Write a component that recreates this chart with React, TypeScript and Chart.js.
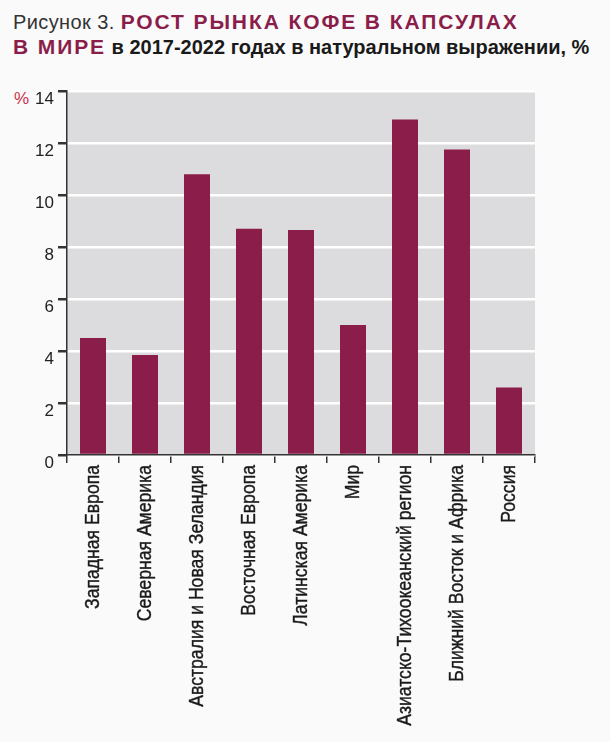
import React, { useEffect, useRef } from "react";
import { Chart, registerables } from "chart.js";

Chart.register(...registerables);

const categories = [
  "Западная Европа",
  "Северная Америка",
  "Австралия и Новая Зеландия",
  "Восточная Европа",
  "Латинская Америка",
  "Мир",
  "Азиатско-Тихоокеанский регион",
  "Ближний Восток и Африка",
  "Россия",
];
const growth = [4.5, 3.85, 10.8, 8.7, 8.65, 5.0, 12.9, 11.75, 2.6];
const yMin = 0;
const yMax = 14;
const yStep = 2;

const MAROON = "#8b1d4a";
const FONT = "'Liberation Sans', Arial, sans-serif";

const plotBg = {
  id: "plotBg",
  beforeDraw(chart: any) {
    const { ctx, chartArea } = chart;
    const { left, top, right, bottom } = chartArea;
    ctx.save();
    ctx.fillStyle = "#dcdcde";
    ctx.fillRect(left, top, right - left, bottom - top);
    ctx.restore();
  },
};

// Condensed, rotated category labels drawn at the x scale's tick positions
const xLabels = {
  id: "xLabels",
  afterDraw(chart: any) {
    const xs = chart.scales.x;
    const ctx = chart.ctx;
    ctx.save();
    ctx.font = `20px ${FONT}`;
    ctx.fillStyle = "#1a1a1a";
    ctx.strokeStyle = "#1a1a1a";
    ctx.lineWidth = 0.4;
    ctx.textAlign = "right";
    ctx.textBaseline = "middle";
    xs.ticks.forEach((_t: any, i: number) => {
      const x = xs.getPixelForTick(i);
      const label = String(chart.data.labels[i]);
      ctx.save();
      ctx.translate(x, xs.top + 10);
      ctx.rotate(-Math.PI / 2);
      ctx.scale(0.88, 1);
      ctx.fillText(label, 0, 0);
      ctx.strokeText(label, 0, 0);
      ctx.restore();
    });
    ctx.restore();
  },
};

export default function App() {
  const ref = useRef<HTMLCanvasElement | null>(null);

  useEffect(() => {
    if (!ref.current) return;
    const chart = new Chart(ref.current, {
      type: "bar",
      data: {
        labels: categories,
        datasets: [
          {
            data: growth,
            backgroundColor: MAROON,
            borderWidth: 0,
            barPercentage: 0.5,
            categoryPercentage: 1,
          },
        ],
      },
      options: {
        animation: false,
        responsive: false,
        maintainAspectRatio: false,
        layout: { padding: { left: 0, top: 91, right: 75, bottom: 0 } },
        plugins: {
          legend: { display: false },
          tooltip: { enabled: false },
        },
        scales: {
          x: {
            grid: {
              offset: true,
              drawOnChartArea: false,
              drawTicks: true,
              tickColor: "#333",
              tickLength: 8,
              lineWidth: 1.5,
            },
            border: { color: "#333", width: 1.5 },
            ticks: {
              display: false,
              autoSkip: false,
            },
            afterFit(scale: any) {
              scale.height = 287;
            },
          },
          y: {
            min: yMin,
            max: yMax,
            ticks: {
              stepSize: yStep,
              color: "#222",
              padding: 4,
              labelOffset: 8,
              font: { family: FONT, size: 17 },
            },
            grid: {
              color: "#ffffff",
              lineWidth: 2.5,
              tickColor: "#333",
              tickLength: 9,
            },
            border: { color: "#333", width: 1.5 },
            afterFit(scale: any) {
              scale.width = 67;
            },
          },
        },
      },
      plugins: [plotBg, xLabels],
    });
    return () => chart.destroy();
  }, []);

  return (
    <div
      style={{
        position: "absolute",
        left: 0,
        top: 0,
        width: 610,
        height: 742,
        background: "#fafafa",
        overflow: "hidden",
      }}
    >
      <div
        style={{
          position: "absolute",
          left: 13,
          top: 8,
          whiteSpace: "nowrap",
          fontFamily: FONT,
          fontSize: 21,
          lineHeight: "28px",
        }}
      >
        <span style={{ color: "#333", fontWeight: 400, fontSize: 20, letterSpacing: 0.4 }}>Рисунок 3. </span>
        <span style={{ color: MAROON, fontWeight: 700, letterSpacing: 1.9 }}>РОСТ РЫНКА КОФЕ В КАПСУЛАХ</span>
      </div>
      <div
        style={{
          position: "absolute",
          left: 13,
          top: 33,
          whiteSpace: "nowrap",
          fontFamily: FONT,
          fontSize: 21,
          lineHeight: "28px",
        }}
      >
        <span style={{ color: MAROON, fontWeight: 700, letterSpacing: 1.9 }}>В МИРЕ</span>
        <span style={{ color: "#1a1a1a", fontWeight: 700, fontSize: 20 }}> в 2017-2022 годах в натуральном выражении, %</span>
      </div>
      <div
        style={{
          position: "absolute",
          left: 14,
          top: 89,
          color: "#c8324a",
          fontFamily: FONT,
          fontSize: 17,
          lineHeight: "20px",
        }}
      >
        %
      </div>
      <canvas
        ref={ref}
        width={610}
        height={742}
        style={{ position: "absolute", left: 0, top: 0, width: 610, height: 742 }}
      />
    </div>
  );
}
